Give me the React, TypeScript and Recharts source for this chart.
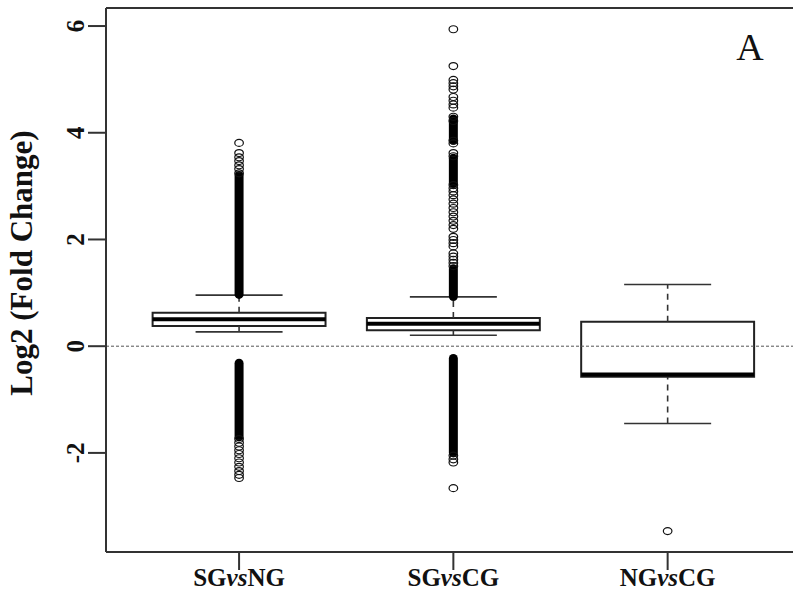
import React from 'react';
import { ComposedChart, XAxis, YAxis, Scatter, ReferenceLine, ReferenceArea } from 'recharts';

const categories = ['SGvsNG', 'SGvsCG', 'NGvsCG'];
const labelLeft = ['SG', 'SG', 'NG'];
const labelRight = ['NG', 'CG', 'CG'];
const positions = [1, 2, 3];

const whiskerLow = [0.268, 0.206, -1.45];
const quartile1 = [0.38, 0.3, -0.575];
const medians = [0.507, 0.42, -0.53];
const quartile3 = [0.625, 0.53, 0.456];
const whiskerHigh = [0.957, 0.925, 1.157];

const outliersSGvsNG = [3.81, 3.62, 3.54, 3.47, 3.39, 3.32, 3.24, -1.74, -1.81, -1.88, -1.95, -2.02, -2.1, -2.18, -2.26, -2.34, -2.41, -2.47];
const outliersSGvsCG = [5.94, 5.25, 4.99, 4.93, 4.87, 4.81, 4.67, 4.6, 4.53, 4.47, 4.3, 4.22, 3.85, 3.8, 3.62, 3.56, 3.02, 2.96, 2.9, 2.83, 2.75, 2.67, 2.59, 2.51, 2.43, 2.35, 2.27, 2.2, 2.05, 1.99, 1.93, 1.87, 1.74, 1.68, 1.62, 1.56, 1.5, -2.05, -2.12, -2.18, -2.66];
const outliersNGvsCG = [-3.465];

// ranges where outlier circles overlap into a solid column
const denseSGvsNG = [[0.97, 3.2], [-0.32, -1.7]];
const denseSGvsCG = [[0.93, 1.45], [3.05, 3.52], [3.86, 4.26], [-0.23, -2.0]];
const denseNGvsCG: number[][] = [];

const yTicks = [-2, 0, 2, 4, 6];
const xTicks = positions;
const Y_DOMAIN = [-3.857, 6.338];
const X_DOMAIN = [0.379, 3.585];

const BOX_HALF = 0.4035;
const CAP_HALF = 0.203;
const FONT = "'Liberation Serif', 'Times New Roman', serif";
const LINE = '#333';

const outlierGroups = [outliersSGvsNG, outliersSGvsCG, outliersNGvsCG];
const denseGroups = [denseSGvsNG, denseSGvsCG, denseNGvsCG];

const outlierData = outlierGroups.flatMap((vals, i) => vals.map((v) => ({ x: positions[i], y: v })));

const OpenCircle = (props: any) => {
  const { cx, cy } = props;
  if (cx == null || cy == null) return null;
  return <ellipse cx={cx} cy={cy} rx={4.3} ry={3.5} fill="none" stroke="#111" strokeWidth={1.2} />;
};

const YTick = (props: any) => {
  const { x, y, payload } = props;
  return (
    <text
      x={x}
      y={y}
      transform={`rotate(-90, ${x}, ${y})`}
      textAnchor="middle"
      fontFamily={FONT}
      fontWeight="bold"
      fontSize={25}
      fill="#111"
    >
      {payload.value}
    </text>
  );
};

const XTick = (props: any) => {
  const { x, y, payload } = props;
  const i = positions.indexOf(payload.value);
  if (i < 0) return null;
  return (
    <text x={x} y={y + 16} textAnchor="middle" fontFamily={FONT} fontWeight="bold" fontSize={25} fill="#111">
      <tspan>{labelLeft[i]}</tspan>
      <tspan fontStyle="italic">vs</tspan>
      <tspan>{labelRight[i]}</tspan>
    </text>
  );
};

const YLabel = (props: any) => {
  const vb = props.viewBox || { x: 0, y: 8, width: 106, height: 544 };
  const x = vb.x + 32;
  const y = vb.y + vb.height / 2 - 17;
  return (
    <text
      x={x}
      y={y}
      transform={`rotate(-90, ${x}, ${y})`}
      textAnchor="middle"
      fontFamily={FONT}
      fontWeight="bold"
      fontSize={31}
      fill="#111"
    >
      Log2 (Fold Change)
    </text>
  );
};

const PanelLabel = () => (
  <text x={750} y={60} textAnchor="middle" fontFamily={FONT} fontSize={38} fill="#111">
    A
  </text>
);

export default function App() {
  return (
    <div style={{ position: 'absolute', left: 0, top: 0, width: 793, height: 597, background: '#fff' }}>
      <ComposedChart width={793} height={597} margin={{ top: 8, right: 0, bottom: 0, left: 0 }}>
        <XAxis
          dataKey="x"
          type="number"
          domain={X_DOMAIN}
          allowDataOverflow
          ticks={xTicks}
          tick={<XTick />}
          tickSize={18}
          tickMargin={0}
          height={45}
          axisLine={{ stroke: LINE, strokeWidth: 2 }}
          tickLine={{ stroke: LINE, strokeWidth: 2 }}
          interval={0}
        />
        <YAxis
          dataKey="y"
          type="number"
          domain={Y_DOMAIN}
          allowDataOverflow
          ticks={yTicks}
          tick={<YTick />}
          tickSize={18}
          tickMargin={4}
          width={106}
          axisLine={{ stroke: LINE, strokeWidth: 2 }}
          tickLine={{ stroke: LINE, strokeWidth: 2 }}
          interval={0}
          label={<YLabel />}
        />
        <ReferenceLine y={Y_DOMAIN[1]} stroke={LINE} strokeWidth={2} label={<PanelLabel />} />
        <ReferenceLine y={0} stroke="#555" strokeWidth={1} strokeDasharray="3 2" />
        {positions.map((p, i) => (
          <ReferenceLine
            key={`wl-${i}`}
            segment={[{ x: p, y: whiskerLow[i] }, { x: p, y: quartile1[i] }]}
            stroke={LINE}
            strokeWidth={1.6}
            strokeDasharray="6 5"
          />
        ))}
        {positions.map((p, i) => (
          <ReferenceLine
            key={`wh-${i}`}
            segment={[{ x: p, y: quartile3[i] }, { x: p, y: whiskerHigh[i] }]}
            stroke={LINE}
            strokeWidth={1.6}
            strokeDasharray="6 5"
          />
        ))}
        {positions.map((p, i) => (
          <ReferenceLine
            key={`cl-${i}`}
            segment={[{ x: p - CAP_HALF, y: whiskerLow[i] }, { x: p + CAP_HALF, y: whiskerLow[i] }]}
            stroke={LINE}
            strokeWidth={1.6}
          />
        ))}
        {positions.map((p, i) => (
          <ReferenceLine
            key={`ch-${i}`}
            segment={[{ x: p - CAP_HALF, y: whiskerHigh[i] }, { x: p + CAP_HALF, y: whiskerHigh[i] }]}
            stroke={LINE}
            strokeWidth={1.6}
          />
        ))}
        {positions.map((p, i) => (
          <ReferenceArea
            key={`box-${i}`}
            x1={p - BOX_HALF}
            x2={p + BOX_HALF}
            y1={quartile1[i]}
            y2={quartile3[i]}
            fill="none"
            fillOpacity={0}
            stroke="#222"
            strokeWidth={2}
          />
        ))}
        {positions.map((p, i) => (
          <ReferenceLine
            key={`med-${i}`}
            segment={[{ x: p - BOX_HALF, y: medians[i] }, { x: p + BOX_HALF, y: medians[i] }]}
            stroke="#000"
            strokeWidth={4}
          />
        ))}
        {denseGroups.flatMap((ranges, i) =>
          ranges.map((r, j) => (
            <ReferenceLine
              key={`dense-${i}-${j}`}
              segment={[{ x: positions[i], y: r[0] }, { x: positions[i], y: r[1] }]}
              stroke="#000"
              strokeWidth={9}
              strokeLinecap="round"
            />
          ))
        )}
        <Scatter data={outlierData} shape={<OpenCircle />} isAnimationActive={false} />
      </ComposedChart>
    </div>
  );
}
